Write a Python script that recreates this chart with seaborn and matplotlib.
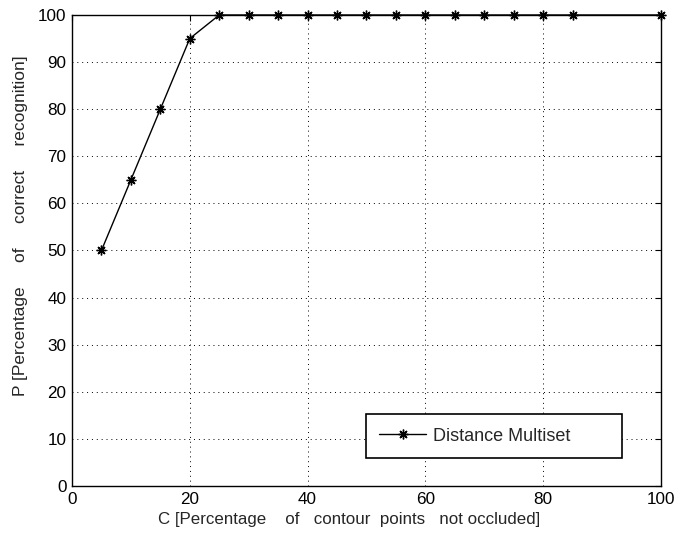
import matplotlib
matplotlib.use("Agg")
import matplotlib.pyplot as plt
import seaborn as sns
import pandas as pd

# Recognition rate versus fraction of visible contour points
contour_pct = [5, 10, 15, 20, 25, 30, 35, 40, 45, 50, 55, 60, 65, 70, 75, 80, 85, 100]
recognition_pct = [50, 65, 80, 95, 100, 100, 100, 100, 100, 100, 100, 100, 100, 100, 100, 100, 100, 100]
series_name = "Distance Multiset"
x_ticks = [0, 20, 40, 60, 80, 100]
y_ticks = [0, 10, 20, 30, 40, 50, 60, 70, 80, 90, 100]

df = pd.DataFrame({"C": contour_pct, "P": recognition_pct, "method": series_name})

sns.set_style("white")
plt.rcParams["font.family"] = ["Liberation Sans", "DejaVu Sans"]

fig = plt.figure(figsize=(6.83, 5.33), dpi=100)
ax = fig.add_axes([0.1054, 0.0882, 0.8624, 0.8837])

sns.lineplot(data=df, x="C", y="P", hue="method", palette=["black"],
             marker=(8, 2, 0), markersize=7, markeredgecolor="black",
             markeredgewidth=1.0, linewidth=1.0, ax=ax, clip_on=False)

ax.set_xlim(0, 100)
ax.set_ylim(0, 100)
ax.set_xticks(x_ticks)
ax.set_yticks(y_ticks)
ax.tick_params(direction="in", top=True, right=True, length=4, width=0.8,
               labelsize=12.3, colors="black", pad=4)
ax.grid(True, linestyle=(0, (1, 4)), color="black", linewidth=0.7)
for s in ax.spines.values():
    s.set_color("black")
    s.set_linewidth(1.0)

ax.set_xlabel("C [Percentage    of   contour  points   not occluded]", fontsize=12.2)
ax.set_ylabel("P [Percentage     of     correct     recognition]", fontsize=12.5)
ax.xaxis.set_label_coords(0.47, -0.055)
ax.yaxis.set_label_coords(-0.075, 0.553)

leg = ax.legend(loc="lower left", bbox_to_anchor=(0.499, 0.059, 0.435, 0.087),
                mode="expand", borderaxespad=0, frameon=True, fancybox=False,
                fontsize=13, handlelength=2.6, handletextpad=0.35,
                borderpad=0.75, edgecolor="black", framealpha=1)
leg.get_frame().set_linewidth(1.2)

fig.savefig("out.png", dpi=100)
